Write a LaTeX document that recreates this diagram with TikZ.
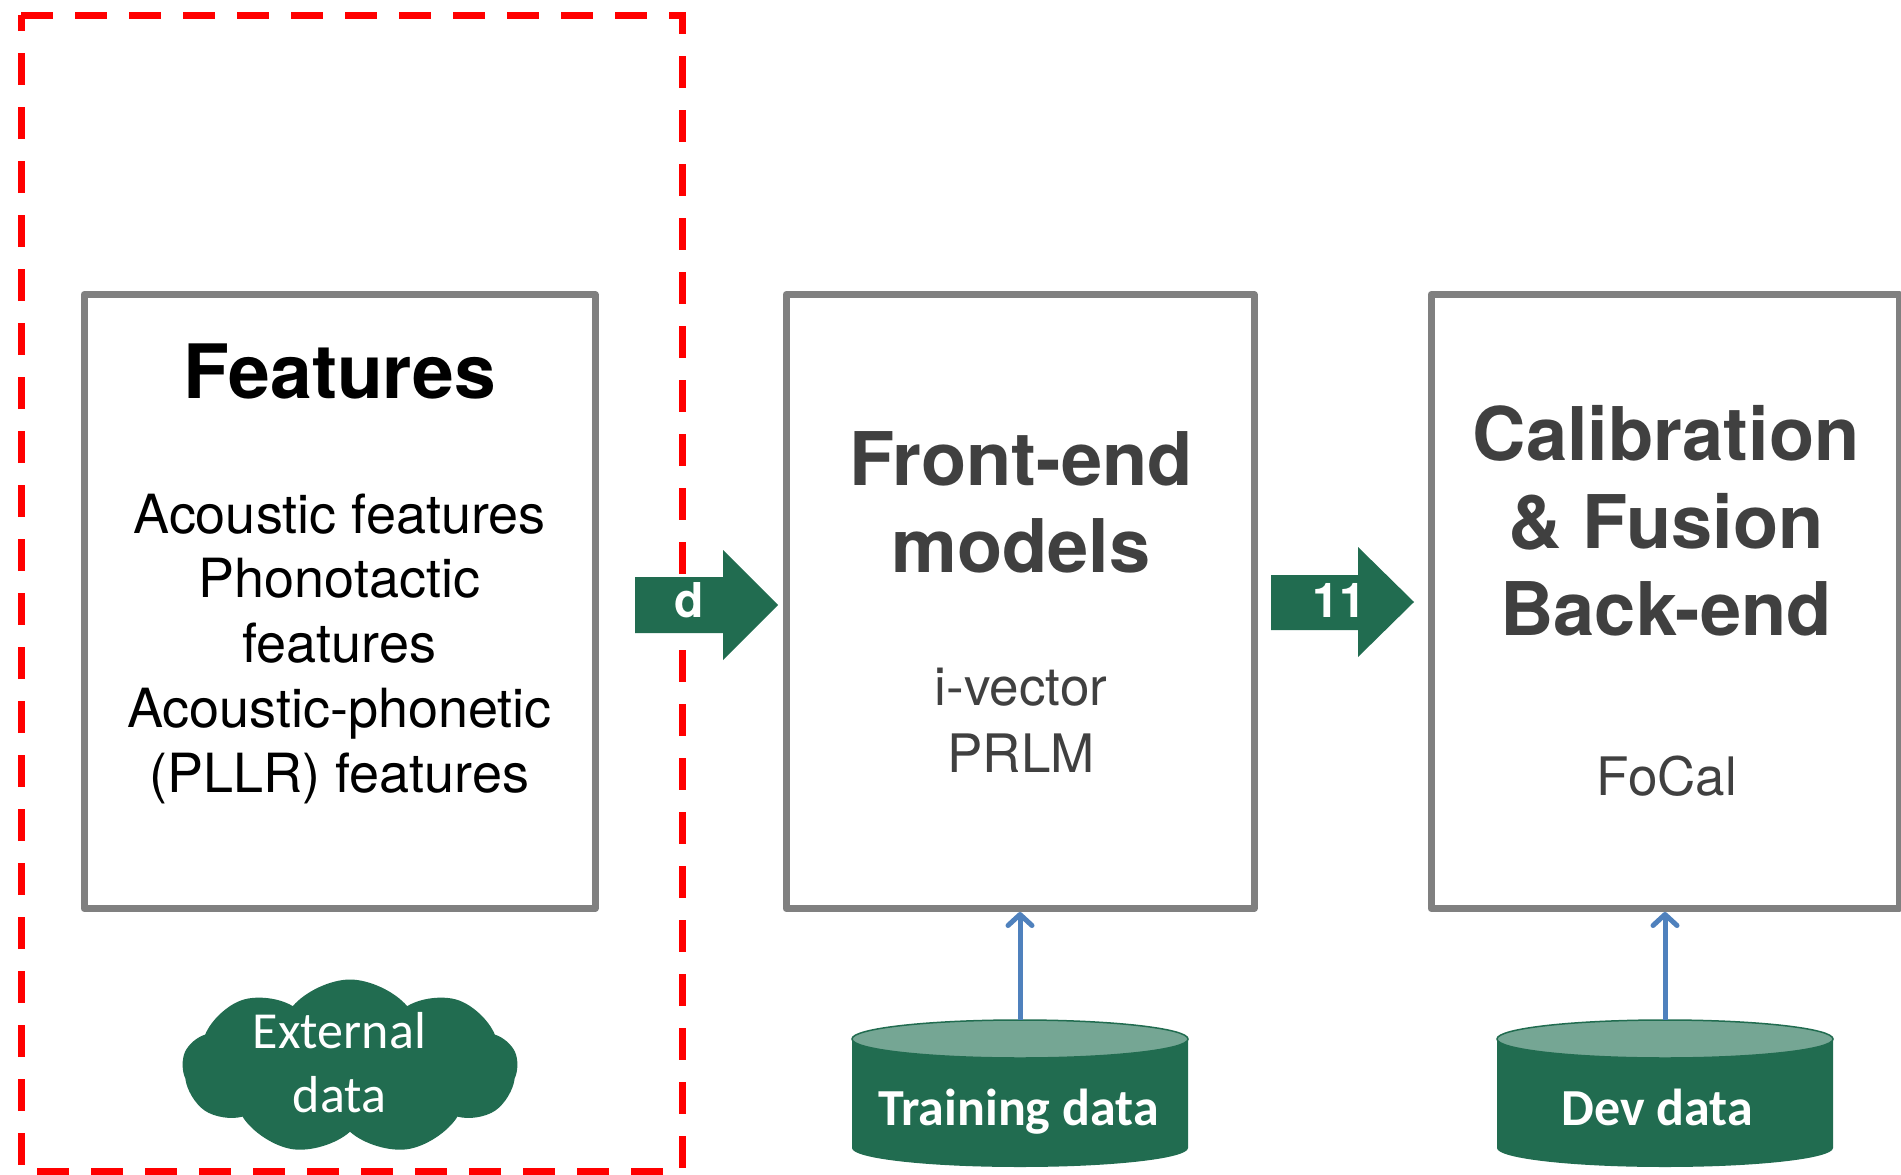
\documentclass[tikz,border=0pt]{standalone}
\usepackage{fontspec}
\setmainfont{TeX Gyre Heros}
\newfontfamily\carlito{Carlito}
\usetikzlibrary{shapes.symbols,arrows.meta}

\definecolor{boxgray}{RGB}{128,128,128}
\definecolor{txtgray}{RGB}{64,64,64}
\definecolor{dkgreen}{RGB}{33,108,80}
\definecolor{ltgreen}{RGB}{117,166,148}
\definecolor{linkblue}{RGB}{79,129,189}
\definecolor{dashred}{RGB}{255,0,0}

\begin{document}
\begin{tikzpicture}[x=1pt,y=-1pt,
  stage/.style={draw=boxgray, line width=7pt, line join=round,
    minimum width=468pt, minimum height=614pt, inner sep=0pt},
  headline/.style={anchor=base, inner sep=0pt, text=txtgray,
    font=\bfseries\fontsize{74}{87}\selectfont},
  subline/.style={anchor=base, inner sep=0pt, text=txtgray,
    font=\fontsize{53}{65}\selectfont},
  flowlabel/.style={anchor=base, inner sep=0pt, text=white,
    font=\bfseries\fontsize{48}{48}\selectfont},
  datalabel/.style={anchor=base, inner sep=0pt, text=white,
    font=\carlito\bfseries\fontsize{52}{52}\selectfont},
  cloudlabel/.style={anchor=base, inner sep=0pt, text=white,
    font=\carlito\fontsize{52}{52}\selectfont},
  region/.style={draw=dashred, line width=7pt, dash pattern=on 32pt off 22pt},
  feed/.style={draw=linkblue, line width=5pt,
    -{Straight Barb[length=11pt,width=24pt,round]}},
]
\useasboundingbox (0,0) rectangle (1901,1175);
\fill[white] (0,0) rectangle (1901,1175);

% region of the external-data features
\draw[region] (21,15) -- (682,15) -- (682,1171) -- (21,1171) -- cycle;

% processing stages
\node[stage, minimum width=511pt] (features) at (339.5,601.5) {};
\node[stage] (frontend) at (1020,601.5) {};
\node[stage] (backend) at (1665,601.5) {};

% features stage text
\node[headline, text=black, font=\bfseries\fontsize{75}{87}\selectfont] (ft) at (339.5,398) {Features};
\node[subline, text=black, font=\fontsize{54}{65}\selectfont] (f1) at (339.5,533) {Acoustic features};
\node[subline, text=black, font=\fontsize{54}{65}\selectfont] (f2) at (339.5,597) {Phonotactic};
\node[subline, text=black, font=\fontsize{54}{65}\selectfont] (f3) at (339.5,662) {features};
\node[subline, text=black, font=\fontsize{54}{65}\selectfont] (f4) at (339.5,727) {Acoustic-phonetic};
\node[subline, text=black, font=\fontsize{54}{65}\selectfont] (f5) at (339.5,792) {(PLLR) features};

% front-end stage text
\node[headline] (fe1) at (1021,485) {Front-end};
\node[headline] (fe2) at (1021,572) {models};
\node[subline] (fe3) at (1021,705) {i-vector};
\node[subline] (fe4) at (1021,772) {PRLM};

% back-end stage text
\node[headline] (be1) at (1666,460) {Calibration};
\node[headline] (be2) at (1666,548) {\& Fusion};
\node[headline] (be3) at (1666,635) {Back-end};
\node[subline] (be4) at (1667,795) {FoCal};

% block arrows between stages
\fill[dkgreen] (635,577) -- (723,577) -- (723,550) -- (778,605) -- (723,660)
  -- (723,633) -- (635,633) -- cycle;
\node[flowlabel] (dlab) at (689.5,617) {d};
\fill[dkgreen] (1271,575) -- (1358,575) -- (1358,547) -- (1414,602) -- (1358,657)
  -- (1358,630) -- (1271,630) -- cycle;
\node[flowlabel] (nlab) at (1339,617) {11};

% external data cloud
\node[cloud, cloud puffs=9, cloud puff arc=100, aspect=1.9, fill=dkgreen,
  minimum width=335pt, minimum height=175pt, inner sep=0pt] (cloud) at (350,1067) {};
\node[cloudlabel] (c1) at (339.5,1048) {External};
\node[cloudlabel] (c2) at (339.5,1112) {data};

% training data store
\fill[dkgreen] (852,1039) -- (852,1148)
  arc[start angle=180, end angle=0, x radius=168, y radius=19] -- (1188,1039) -- cycle;
\filldraw[fill=ltgreen, draw=dkgreen, line width=1.5pt] (1020,1039) ellipse [x radius=168, y radius=19];
\coordinate (traintop) at (1020,1020);
\node[datalabel] (train) at (1018.5,1125) {Training data};

% development data store
\fill[dkgreen] (1497,1039) -- (1497,1148)
  arc[start angle=180, end angle=0, x radius=168, y radius=19] -- (1833,1039) -- cycle;
\filldraw[fill=ltgreen, draw=dkgreen, line width=1.5pt] (1665,1039) ellipse [x radius=168, y radius=19];
\coordinate (devtop) at (1665,1020);
\node[datalabel] (dev) at (1657,1125) {Dev data};

% data feeding the stages
\draw[feed] (traintop) -- (traintop |- frontend.south);
\draw[feed] (devtop) -- (devtop |- backend.south);
\end{tikzpicture}
\end{document}
